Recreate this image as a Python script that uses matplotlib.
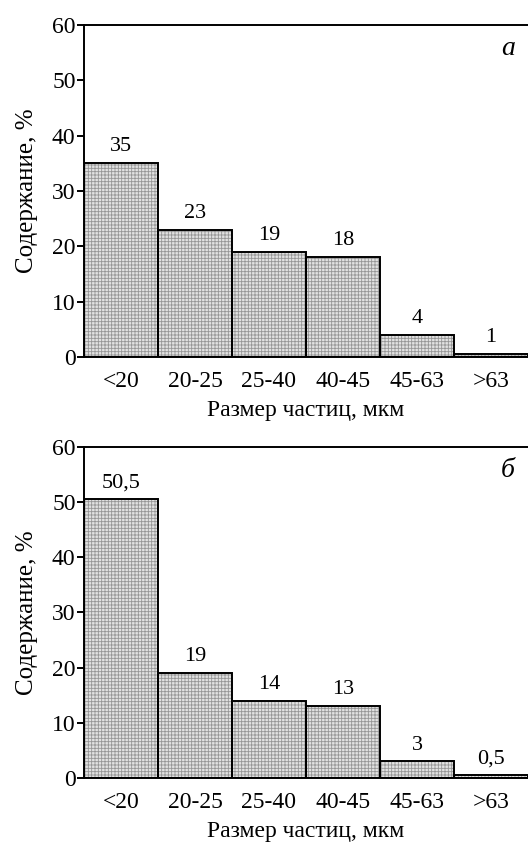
import numpy as np
import matplotlib.pyplot as plt

plt.rcParams['font.family'] = ['Liberation Serif', 'DejaVu Serif']
plt.rcParams['hatch.linewidth'] = 0.6

# --- data ---
categories = ['<20', '20-25', '25-40', '40-45', '45-63', '>63']
heights_a = [35, 23, 19, 18, 4, 0.5]
labels_a = ['35', '23', '19', '18', '4', '1']
heights_b = [50.5, 19, 14, 13, 3, 0.5]
labels_b = ['50,5', '19', '14', '13', '3', '0,5']
panel_a = 'а'
panel_b = 'б'
yticks = [0, 10, 20, 30, 40, 50, 60]

fig = plt.figure(figsize=(5.28, 8.43), dpi=100)
ax1 = fig.add_axes([0.159, 0.5765, 0.841, 0.3938])
ax2 = fig.add_axes([0.159, 0.0771, 0.841, 0.3927])


def draw(ax, heights, labels, letter):
    x = np.arange(len(categories))
    # grey grid fill, then black outline on top
    ax.bar(x, heights, width=1.0, facecolor='#e2e2e2', edgecolor='#969696',
           linewidth=0, hatch='+++++', zorder=2)
    bars = ax.bar(x, heights, width=1.0, fill=False, edgecolor='black',
                  linewidth=1.4, zorder=3)
    for b, lab in zip(bars, labels):
        ax.annotate(lab, (b.get_x() + b.get_width() / 2, b.get_height()),
                    xytext=(0, 5), textcoords='offset points',
                    ha='center', va='bottom', fontsize=16)
    ax.set_xlim(-0.5, len(categories) - 0.5)
    ax.set_ylim(0, 60)
    ax.set_yticks(yticks)
    ax.set_xticks(x)
    ax.set_xticklabels(categories)
    ax.tick_params(axis='y', direction='out', length=5, width=1.4, labelsize=17, pad=1)
    ax.tick_params(axis='x', length=0, labelsize=17, pad=10)
    for s in ['left', 'top', 'bottom']:
        ax.spines[s].set_linewidth(1.4)
    ax.spines['right'].set_visible(False)
    ax.set_ylabel('Содержание, %', fontsize=18, labelpad=10)
    ax.set_xlabel('Размер частиц, мкм', fontsize=17, labelpad=6)
    ax.text(0.955, 0.93, letter, transform=ax.transAxes, fontsize=20,
            style='italic', ha='center', va='center')


draw(ax1, heights_a, labels_a, panel_a)
draw(ax2, heights_b, labels_b, panel_b)

fig.savefig('out.png', dpi=100)
